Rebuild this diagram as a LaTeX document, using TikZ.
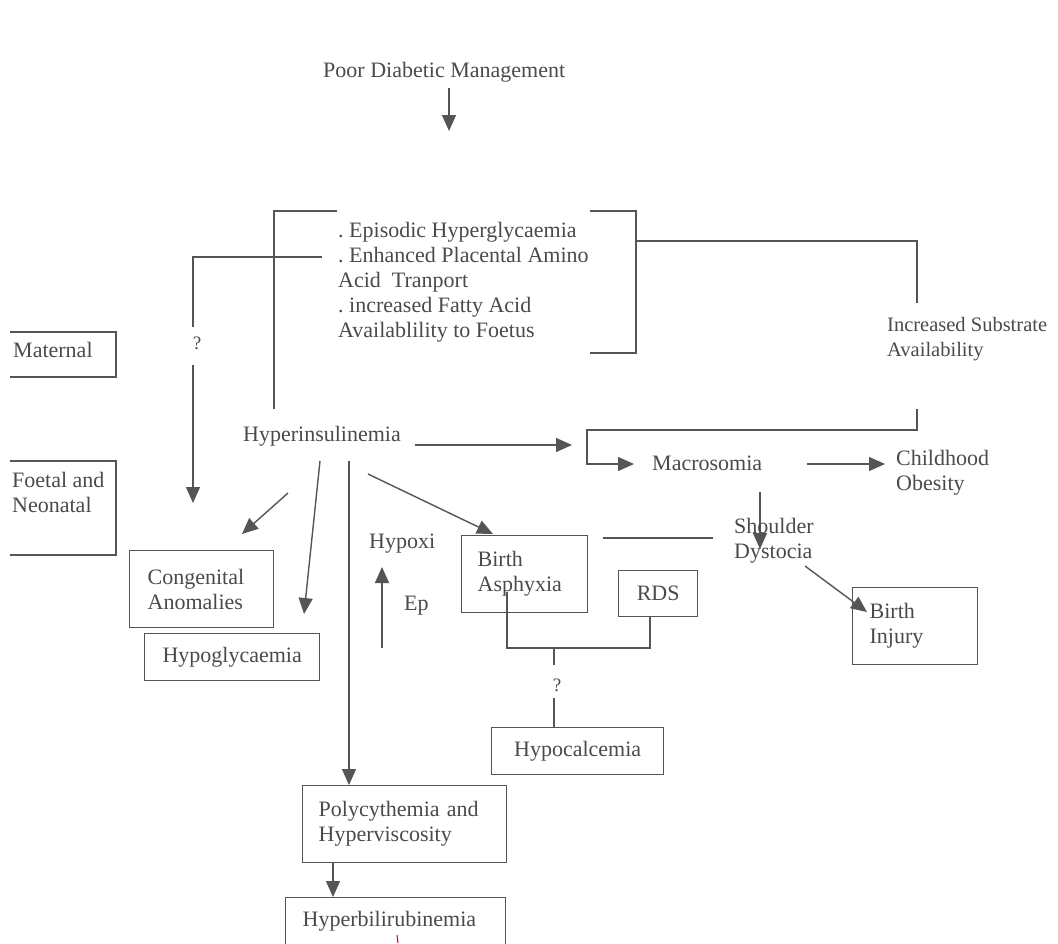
\documentclass[tikz,border=0pt]{standalone}
\usepackage{fontspec}
\setmainfont{Liberation Serif}
\usetikzlibrary{arrows.meta}
\definecolor{ink}{HTML}{4A4A4A}
\definecolor{ln}{HTML}{555555}
\frenchspacing
\begin{document}
\begin{tikzpicture}[x=1pt,y=-1pt,
  txt/.style={inner sep=0pt, anchor=base west, align=left, text=ink, font=\fontsize{22}{25}\selectfont},
  qtxt/.style={inner sep=0pt, anchor=center, text=ink, font=\fontsize{19}{23}\selectfont},
  bx/.style={draw=ln, line width=1.3pt, anchor=north west, text=ink, font=\fontsize{22}{25}\selectfont, inner ysep=0pt},
  lbx/.style={bx, align=left},
  conn/.style={draw=ln, line width=1.4pt},
  arr/.style={conn, -{Triangle[length=16pt,width=14pt]}},
]
\useasboundingbox (0,0) rectangle (1058,943);

% title
\node[txt] (pdm) at (323,77) {Poor Diabetic Management};
\coordinate (pdmA) at (449,88);
\coordinate (pdmB) at (449,131);
\draw[arr] (pdmA) -- (pdmB);

% bracket text (base = last line)
\node[txt] (epi) at (338,337) {. Episodic Hyperglycaemia\\. Enhanced Placental Amino\\Acid~~Tranport\\. increased Fatty Acid\\Availablility to Foetus};
\coordinate (bl1) at (337,211);
\coordinate (bl2) at (274,211);
\coordinate (bl3) at (274,409);
\draw[conn] (bl1) -- (bl2) -- (bl3);
\coordinate (br1) at (590,211);
\coordinate (br2) at (636,211);
\coordinate (br3) at (636,353);
\coordinate (br4) at (590,353);
\draw[conn] (br1) -- (br2) -- (br3) -- (br4);

% question branch to the left
\coordinate (q1) at (322,257);
\coordinate (q2) at (193,257);
\coordinate (q3) at (193,327);
\node[qtxt] (qm1) at (197,343) {?};
\coordinate (q4) at (193,365);
\coordinate (q5) at (193,503);
\draw[conn] (q1) -- (q2) -- (q3);
\draw[arr] (q4) -- (q5);

% substrate availability
\coordinate (c1) at (636,241);
\coordinate (c2) at (917,241);
\coordinate (c3) at (917,303);
\draw[conn] (c1) -- (c2) -- (c3);
\node[txt, font=\fontsize{20.5}{25}\selectfont] (isa) at (887,356) {Increased Substrate\\Availability};
\coordinate (c4) at (917,409);
\coordinate (c5) at (917,430);
\coordinate (c6) at (587,430);
\coordinate (c7) at (587,464);
\coordinate (c8) at (634,464);
\draw[arr] (c4) -- (c5) -- (c6) -- (c7) -- (c8);

% left category boxes (left edges cut off)
\node[txt] (mat) at (13,357) {Maternal};
\draw[conn, line width=1.3pt] (10,332) -- (116,332) -- (116,377) -- (10,377);
\node[txt] (foe) at (12,512) {Foetal and\\Neonatal};
\draw[conn, line width=1.3pt] (10,461) -- (116,461) -- (116,555) -- (10,555);

% hyperinsulinemia
\node[txt] (hyp) at (243,441) {Hyperinsulinemia};
\coordinate (h1) at (415,445);
\coordinate (h2) at (572,445);
\draw[arr] (h1) -- (h2);

% macrosomia
\node[txt] (mac) at (652,470) {Macrosomia};
\coordinate (m1) at (807,464);
\coordinate (m2) at (885,464);
\draw[arr] (m1) -- (m2);
\node[txt] (cho) at (896,490) {Childhood\\Obesity};
\coordinate (m3) at (760,492);
\coordinate (m4) at (760,549);
\draw[arr] (m3) -- (m4);
\node[txt] (sho) at (734,558) {Shoulder\\Dystocia};
\coordinate (s3) at (805,566);
\coordinate (s4) at (867,612);
\draw[arr] (s3) -- (s4);
\node[lbx, minimum width=125pt, minimum height=77pt, text width=91pt, inner xsep=17pt] (inj) at (852,587) {Birth\\Injury};

% branches from hyperinsulinemia
\node[lbx, minimum width=144pt, minimum height=77pt, text width=108pt, inner xsep=18pt] (con) at (129,550) {Congenital\\Anomalies};
\node[bx, minimum width=175pt, minimum height=47pt, inner xsep=0pt] (hgl) at (144,633) {Hypoglycaemia};
\coordinate (k1) at (288,493);
\coordinate (k2) at (242,534);
\draw[arr] (k1) -- (k2);
\coordinate (k3) at (320,461);
\coordinate (k4) at (304,614);
\draw[arr] (k3) -- (k4);

\node[lbx, minimum width=126pt, minimum height=77pt, text width=94pt, inner xsep=16pt] (bas) at (461,535) {Birth\\Asphyxia};
\coordinate (k6) at (368,474);
\coordinate (k7) at (493,534);
\draw[arr] (k6) -- (k7);
\coordinate (s1) at (603,538);
\coordinate (s2) at (713,538);
\draw[conn] (s1) -- (s2);

\node[txt] (hpx) at (369,548) {Hypoxi};
\coordinate (e1) at (382,648);
\coordinate (e2) at (382,567);
\draw[arr] (e1) -- (e2);
\node[txt] (ep) at (404,610) {Ep};

\node[bx, minimum width=79pt, minimum height=46pt, inner xsep=0pt] (rds) at (618,570) {RDS};
\coordinate (r1) at (507,592);
\coordinate (r2) at (507,648);
\coordinate (r3) at (650,648);
\coordinate (r4) at (650,616);
\draw[conn] (r1) -- (r2) -- (r3) -- (r4);
\coordinate (r5) at (554,648);
\coordinate (r6) at (554,665);
\draw[conn] (r5) -- (r6);
\node[qtxt] (qm2) at (557,685) {?};
\coordinate (r7) at (554,698);
\node[bx, minimum width=172pt, minimum height=47pt, inner xsep=0pt] (hca) at (491,727) {Hypocalcemia};
\draw[conn] (r7) -- (r7 |- hca.north);

% polycythemia chain
\node[lbx, minimum width=204pt, minimum height=77pt, text width=172pt, inner xsep=16pt] (pol) at (302,785) {Polycythemia and\\Hyperviscosity};
\coordinate (k5) at (349,461);
\draw[arr] (k5) -- (k5 |- pol.north);
\node[lbx, minimum width=220pt, minimum height=47pt, text width=186pt, inner xsep=17pt] (hbl) at (285,897) {Hyperbilirubinemia};
\coordinate (p1) at (333,862);
\draw[arr] (p1) -- (p1 |- hbl.north);
\draw[red!80!black, line width=1pt] (397,935) -- (398,943);
\end{tikzpicture}
\end{document}
